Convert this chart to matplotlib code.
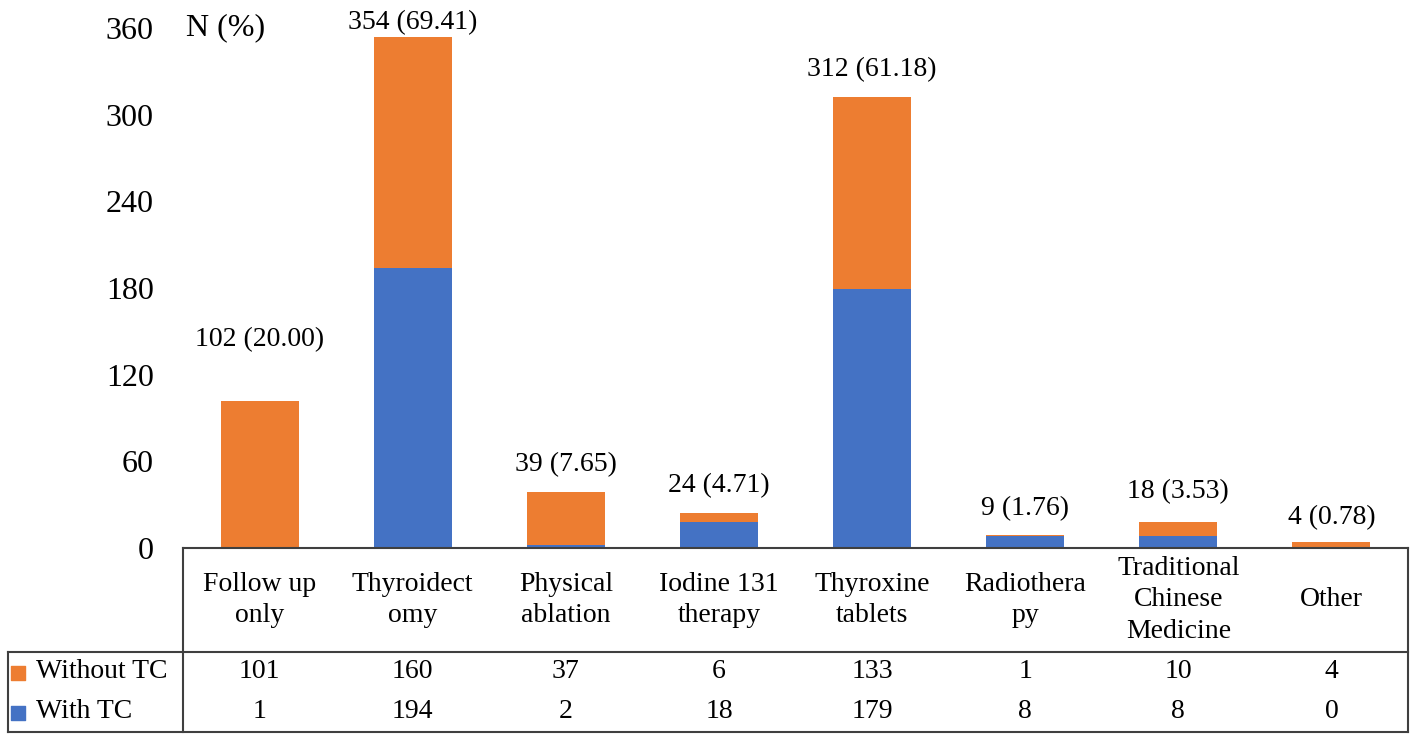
import matplotlib.pyplot as plt

plt.rcParams['font.family'] = ['Liberation Serif', 'DejaVu Serif']

categories = ["Follow up\nonly", "Thyroidect\nomy", "Physical\nablation", "Iodine 131\ntherapy",
              "Thyroxine\ntablets", "Radiothera\npy", "Traditional\nChinese\nMedicine", "Other"]
without_tc = [101, 160, 37, 6, 133, 1, 10, 4]
with_tc = [1, 194, 2, 18, 179, 8, 8, 0]
percents = ["20.00", "69.41", "7.65", "4.71", "61.18", "1.76", "3.53", "0.78"]
yticks = [0, 60, 120, 180, 240, 300, 360]

# label lift above bar top (data units), the first two were moved by hand in the original
label_lift = [42, 10, 19, 19, 19, 18, 21, 17]

ORANGE = "#ED7D31"
BLUE = "#4472C4"
LINE = "#3f3f3f"

W, H = 1417, 740
fig = plt.figure(figsize=(W / 100, H / 100), dpi=100)

left_px, right_px = 183, 1408
axis_px, top_px, bottom_px = 548, 28, 732

ax = fig.add_axes([left_px / W, (H - axis_px) / H, (right_px - left_px) / W, (axis_px - top_px) / H])
x = list(range(len(categories)))
totals = [a + b for a, b in zip(without_tc, with_tc)]
ax.bar(x, with_tc, width=0.51, color=BLUE)
ax.bar(x, without_tc, bottom=with_tc, width=0.51, color=ORANGE)
for i, t in enumerate(totals):
    ax.text(i, t + label_lift[i], f"{t} ({percents[i]})", ha="center", va="center", fontsize=20)
ax.set_xlim(-0.5, len(categories) - 0.5)
ax.set_ylim(0, 360)
ax.set_yticks(yticks)
ax.set_yticklabels([str(v) for v in yticks], fontsize=23)
ax.tick_params(axis="y", length=0, pad=21)
ax.set_xticks([])
for s in ax.spines.values():
    s.set_visible(False)
ax.text(-0.48, 360, "N (%)", ha="left", va="center", fontsize=23, clip_on=False)

# data table below the bars
tax = fig.add_axes([left_px / W, (H - bottom_px) / H, (right_px - left_px) / W, (bottom_px - axis_px) / H])
tax.set_xlim(-0.5, len(categories) - 0.5)
tax.set_ylim(bottom_px - axis_px, 0)
tax.axis("off")
col_w = (right_px - left_px) / len(categories)
box_left = -0.5 - (left_px - 8) / col_w
row_line = 652 - axis_px
kw = dict(color=LINE, lw=1.5, clip_on=False)
tax.plot([-0.5, 7.5], [0, 0], **kw)
tax.plot([-0.5, -0.5], [0, bottom_px - axis_px], **kw)
tax.plot([7.5, 7.5], [0, bottom_px - axis_px], **kw)
tax.plot([box_left, 7.5], [row_line, row_line], **kw)
tax.plot([box_left, 7.5], [bottom_px - axis_px, bottom_px - axis_px], **kw)
tax.plot([box_left, box_left], [row_line, bottom_px - axis_px], **kw)

for i, name in enumerate(categories):
    tax.text(i, row_line / 2, name, ha="center", va="center", fontsize=20, linespacing=1.35)
    tax.text(i, 672 - axis_px, str(without_tc[i]), ha="center", va="center", fontsize=20)
    tax.text(i, 712 - axis_px, str(with_tc[i]), ha="center", va="center", fontsize=20)

sq_x = box_left + 5 / col_w
for yy, lab, c in [(672 - axis_px, "Without TC", ORANGE), (712 - axis_px, "With TC", BLUE)]:
    tax.scatter([sq_x + 5 / col_w], [yy + 1], marker="s", s=90, color=c, clip_on=False)
    tax.text(box_left + 28 / col_w, yy, lab, ha="left", va="center", fontsize=20, clip_on=False)

fig.savefig("out.png", dpi=100)
